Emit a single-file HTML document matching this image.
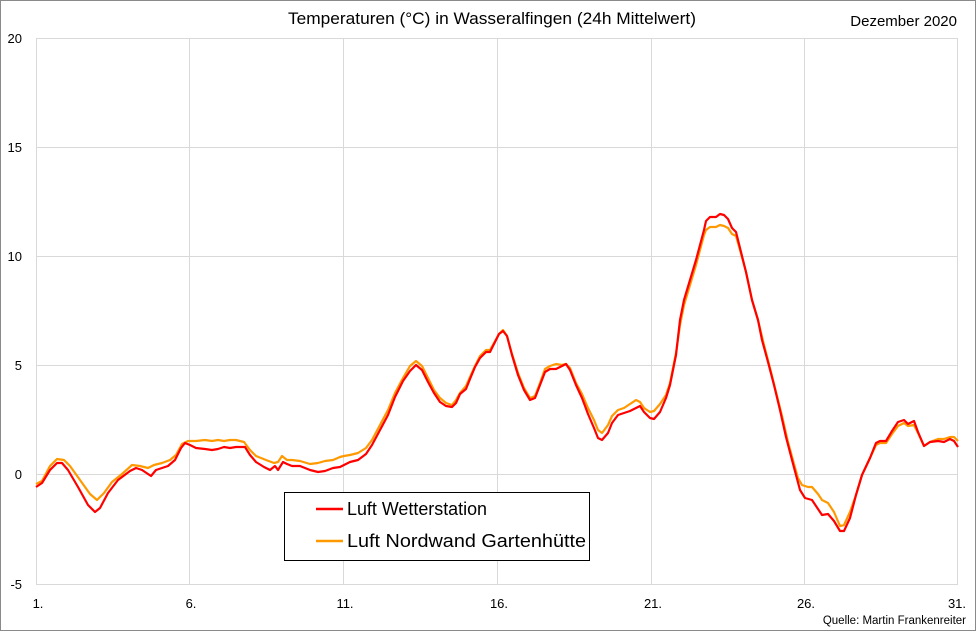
<!DOCTYPE html>
<html><head><meta charset="utf-8"><style>
body{margin:0;background:#fff}
svg{display:block;font-family:"Liberation Sans",sans-serif}
</style></head><body>
<svg width="976" height="631" viewBox="0 0 976 631">
<rect x="0.5" y="0.5" width="975" height="630" fill="#fff" stroke="#8a8a8a"/>
<g stroke="#d9d9d9" stroke-width="1">
<line x1="36" y1="38.5" x2="958" y2="38.5"/>
<line x1="36" y1="147.5" x2="958" y2="147.5"/>
<line x1="36" y1="256.5" x2="958" y2="256.5"/>
<line x1="36" y1="365.5" x2="958" y2="365.5"/>
<line x1="36" y1="474.5" x2="958" y2="474.5"/>
<line x1="36" y1="584.5" x2="958" y2="584.5"/>
<line x1="36.5" y1="38" x2="36.5" y2="584"/>
<line x1="189.5" y1="38" x2="189.5" y2="584"/>
<line x1="343.5" y1="38" x2="343.5" y2="584"/>
<line x1="497.5" y1="38" x2="497.5" y2="584"/>
<line x1="651.5" y1="38" x2="651.5" y2="584"/>
<line x1="804.5" y1="38" x2="804.5" y2="584"/>
<line x1="957.5" y1="38" x2="957.5" y2="584"/>
</g>
<g font-size="13" fill="#000" text-anchor="end">
<text x="22" y="43">20</text><text x="22" y="152">15</text><text x="22" y="261">10</text>
<text x="22" y="370">5</text><text x="22" y="479">0</text><text x="22" y="589">-5</text>
</g>
<g font-size="13" fill="#000" text-anchor="middle">
<text x="38" y="608">1.</text><text x="191" y="608">6.</text><text x="345" y="608">11.</text>
<text x="499" y="608">16.</text><text x="653" y="608">21.</text><text x="806" y="608">26.</text><text x="957" y="608">31.</text>
</g>
<text x="492" y="24" font-size="16.5" text-anchor="middle" textLength="408" lengthAdjust="spacingAndGlyphs">Temperaturen (°C) in Wasseralfingen (24h Mittelwert)</text>
<text x="957" y="26" font-size="15" text-anchor="end">Dezember 2020</text>
<text x="966" y="624" font-size="11.5" text-anchor="end">Quelle: Martin Frankenreiter</text>
<polyline fill="none" stroke="#ff9900" stroke-width="2.2" stroke-linejoin="round" points="36,484 42,481 50,466 57,459 64,460 70,466 80,480 90,494 97,500 104,493 112,482 122,474 132,465 140,466 148,468 154,465 162,463 170,460 176,455 182,444 188,441 196,441 205,440 212,441 218,440 224,441 230,440 236,440 244,442 250,450 256,456 266,460 274,463 278,462 282,456 287,460 292,460 300,461 310,464 318,463 325,461 333,460 340,457 344,456 350,455 358,453 366,448 372,440 380,425 388,410 395,393 403,378 410,366 416,361 422,366 428,378 434,390 440,398 446,403 452,405 456,400 460,393 466,386 470,377 475,366 480,356 486,350 490,350 494,343 499,334 503,330 507,336 512,354 518,373 524,388 530,398 535,396 540,383 545,369 550,366 556,364 562,365 566,364 570,368 576,383 582,394 588,408 594,420 598,430 602,433 608,425 612,416 618,410 624,408 630,404 636,400 640,402 644,408 650,412 654,411 660,404 666,395 670,383 676,353 680,325 684,305 690,285 696,265 700,250 704,235 706,230 710,227 716,227 720,225 724,226 728,228 732,234 736,236 740,250 746,272 752,300 758,320 764,345 770,368 776,392 782,416 788,442 794,464 798,478 802,485 808,487 812,487 818,494 822,500 828,503 834,512 840,526 844,525 850,512 856,495 862,475 870,458 876,445 880,443 886,443 892,434 898,426 904,423 908,426 914,425 918,433 924,446 930,442 938,439 944,439 950,437 954,437 958,441"/>
<polyline fill="none" stroke="#ff0000" stroke-width="2.2" stroke-linejoin="round" points="36,487 42,483 50,470 57,463 62,463 68,470 78,487 88,505 95,512 100,508 108,493 118,480 130,471 136,468 142,470 148,474 151,476 156,470 162,468 168,466 175,460 181,448 185,443 190,445 196,448 205,449 212,450 218,449 224,447 230,448 236,447 245,447 250,455 256,462 264,467 270,470 275,466 278,470 283,462 287,464 292,466 300,466 310,470 318,472 325,471 333,468 340,467 344,465 350,462 358,460 366,454 372,445 380,430 388,415 395,397 403,381 410,371 416,365 422,370 428,382 434,393 440,402 446,406 452,407 456,403 460,394 466,389 470,379 475,367 480,358 486,352 490,352 494,344 499,334 503,331 507,336 512,355 518,375 524,390 530,400 535,398 540,385 545,372 550,369 556,369 562,366 566,364 570,370 576,385 582,398 588,414 594,428 598,438 602,440 608,433 612,423 618,415 624,413 630,411 636,408 640,406 644,412 650,418 654,419 660,412 666,398 670,385 676,355 680,320 684,300 690,280 696,260 700,245 704,230 706,221 710,217 716,217 720,214 724,215 728,219 732,228 736,232 740,248 746,272 752,300 758,320 762,340 768,362 774,385 780,410 786,437 792,460 796,475 800,490 805,498 812,500 818,509 822,515 828,514 834,521 840,531 844,531 850,518 856,495 862,475 870,458 876,443 880,441 886,441 892,431 898,422 904,420 908,424 914,421 918,432 924,446 930,442 938,441 944,442 950,439 954,441 958,447"/>
<rect x="284.5" y="492.5" width="305" height="68" fill="#fff" stroke="#000" stroke-width="1"/>
<line x1="316" y1="509" x2="343" y2="509" stroke="#ff0000" stroke-width="2.5"/>
<line x1="316" y1="541" x2="343" y2="541" stroke="#ff9900" stroke-width="2.5"/>
<text x="347" y="515" font-size="18" textLength="140" lengthAdjust="spacingAndGlyphs">Luft Wetterstation</text>
<text x="347" y="547" font-size="18" textLength="239" lengthAdjust="spacingAndGlyphs">Luft Nordwand Gartenhütte</text>
</svg>
</body></html>
